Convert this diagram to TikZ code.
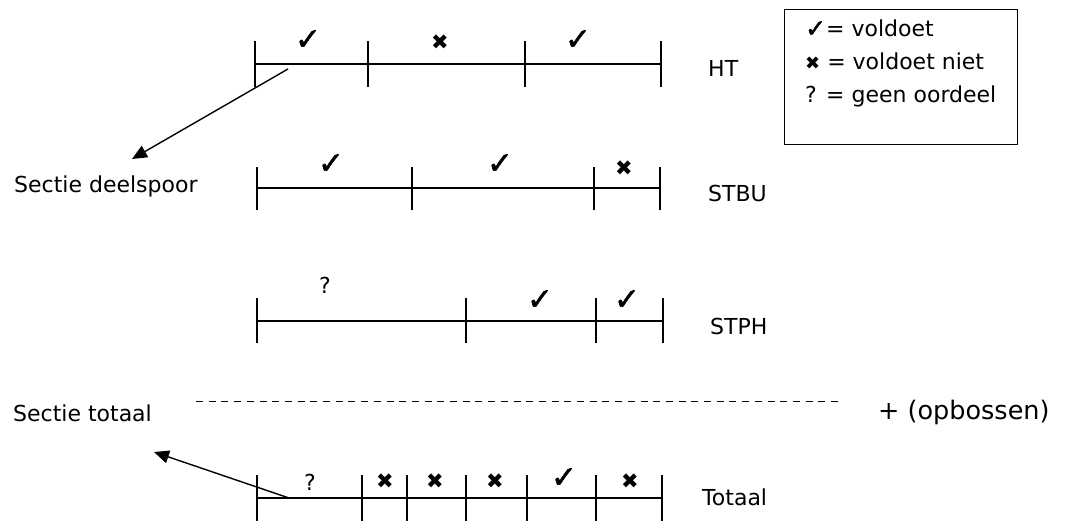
\documentclass[tikz,border=0pt]{standalone}
\usepackage{fontspec}
\setmainfont{DejaVu Sans}
\newfontface\okface[FakeBold=1.6]{DejaVu Sans}
\newfontfamily\symfont{DejaVu Sans}
\usetikzlibrary{arrows.meta}
\newcommand{\okglyph}{{\okface\fontsize{31}{31}\selectfont ✓}}
\newcommand{\okglyphsmall}{{\okface\fontsize{25}{25}\selectfont ✓}}
\newcommand{\noglyph}{{\symfont\fontsize{21}{21}\selectfont ✖}}
\newcommand{\noglyphsmall}{{\symfont\fontsize{18}{18}\selectfont ✖}}
\tikzset{
  rail/.style={line width=1.3pt},
  tickline/.style={line width=1.5pt},
  lbl/.style={inner sep=0pt, anchor=base west, font=\fontsize{22}{26}\selectfont},
  verdict/.style={inner sep=0pt, anchor=center, font=\fontsize{22}{26}\selectfont},
  pointer/.style={line width=1.4pt, -{Triangle[length=15pt,width=13pt]}},
}
\begin{document}
\begin{tikzpicture}[x=1pt,y=-1pt]
\useasboundingbox (0,0) rectangle (1066,521);

% HT
\draw[rail] (255,64) -- (661,64);
\foreach \x in {255,368,525,661} \draw[tickline] (\x,41) -- (\x,87);
\node[verdict] (ht1) at (308,40) {\okglyph};
\node[verdict] (ht2) at (440,42) {\noglyph};
\node[verdict] (ht3) at (578,40) {\okglyph};
\node[lbl] (htname) at (708,77) {HT};

% STBU
\draw[rail] (257,188) -- (660,188);
\foreach \x in {257,412,594,660} \draw[tickline] (\x,167) -- (\x,210);
\node[verdict] (bu1) at (331,164) {\okglyph};
\node[verdict] (bu2) at (500,164) {\okglyph};
\node[verdict] (bu3) at (624,168) {\noglyph};
\node[lbl] (buname) at (708,202) {STBU};

% STPH
\draw[rail] (257,321) -- (663,321);
\foreach \x in {257,466,596,663} \draw[tickline] (\x,298) -- (\x,343);
\node[verdict] (ph1) at (325,285) {?};
\node[verdict] (ph2) at (540,300) {\okglyph};
\node[verdict] (ph3) at (627,300) {\okglyph};
\node[lbl] (phname) at (710,335) {STPH};

% dashed summation line
\node[lbl] (sectot) at (13,421) {Sectie totaal};
\draw[line width=0.9pt, dash pattern=on 7pt off 5.7pt] (196,401) -- (843,401);
\node[lbl, font=\fontsize{25.5}{30}\selectfont] (plus) at (878,419) {+ (opbossen)};

% Totaal
\draw[rail] (257,498) -- (662,498);
\foreach \x in {257,362,407,466,527,596,662} \draw[tickline] (\x,475) -- (\x,521);
\node[verdict] (t1) at (310,482) {?};
\node[verdict] (t2) at (385,481) {\noglyph};
\node[verdict] (t3) at (435,481) {\noglyph};
\node[verdict] (t4) at (495,481) {\noglyph};
\node[verdict] (t5) at (564,478) {\okglyph};
\node[verdict] (t6) at (630,481) {\noglyph};
\node[lbl] (totname) at (702,505) {Totaal};

% section labels with pointers
\node[lbl] (secdeel) at (14,193) {Sectie deelspoor};
\coordinate (htpick) at (288,69);
\coordinate (deeltip) at (132,159);
\draw[pointer] (htpick) -- (deeltip);
\coordinate (totpick) at (289,498);
\coordinate (tottip) at (154,452);
\draw[pointer] (totpick) -- (tottip);

% legend
\node[draw, line width=1pt, inner sep=0pt, minimum width=233pt, minimum height=135pt, anchor=north west] (legend) at (784,9) {};
\node[lbl] (leg1) at (805,37) {\okglyphsmall= voldoet};
\node[lbl] (leg2) at (805,70) {\noglyphsmall\ = voldoet niet};
\node[lbl] (leg3) at (805,103) {? = geen oordeel};
\end{tikzpicture}
\end{document}
